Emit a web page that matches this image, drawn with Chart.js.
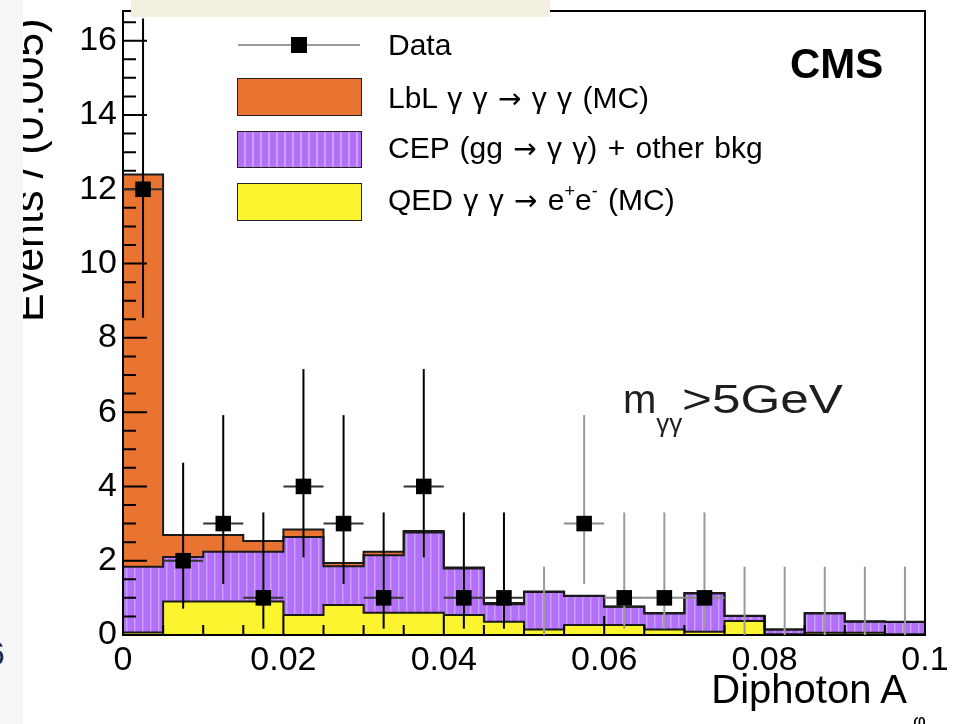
<!DOCTYPE html>
<html>
<head>
<meta charset="utf-8">
<title>Diphoton acoplanarity</title>
<script src="https://cdn.jsdelivr.net/npm/chart.js@4.4.1/dist/chart.umd.min.js"></script>
<style>
  html, body { margin: 0; padding: 0; background: #fff; }
  #wrap { position: relative; width: 967px; height: 724px; overflow: hidden;
          font-family: "Liberation Sans", Arial, Helvetica, sans-serif; }
  #plot { position: absolute; left: 0; top: 0; }
  .t { position: absolute; white-space: nowrap; line-height: 1; color: #000; }
  .lg { font-size: 30px; word-spacing: 2px; }
  .sw { position: absolute; box-sizing: border-box; border: 1.5px solid #222; }
  .ar { font-family: "DejaVu Sans", sans-serif; font-size: 28px; }
  sup { font-size: 60%; vertical-align: 0; position: relative; top: -0.7em; }
</style>
</head>
<body>
<div id="wrap">
  <canvas id="plot" width="967" height="724"></canvas>

  <!-- legend -->
  <div style="position:absolute;left:238px;top:44px;width:122px;height:2px;background:#9a9a9a"></div>
  <div style="position:absolute;left:291px;top:37px;width:16px;height:16px;background:#000"></div>
  <div class="t lg" style="left:388px;top:30px">Data</div>

  <div class="sw" style="left:237px;top:78px;width:125px;height:38px;background:#e97331"></div>
  <div class="t lg" style="left:388px;top:83px">LbL γ γ <span class="ar">→</span> γ γ (MC)</div>

  <div class="sw" style="left:237px;top:131px;width:125px;height:37px;background:repeating-linear-gradient(90deg,#b36ff8 0 6px,#caa2fb 6px 8px)"></div>
  <div class="t lg" style="left:388px;top:133px">CEP (gg <span class="ar">→</span> γ γ) + other bkg</div>

  <div class="sw" style="left:237px;top:183px;width:125px;height:38px;background:#fbf42f"></div>
  <div class="t lg" style="left:388px;top:185px">QED γ γ <span class="ar">→</span> e<sup>+</sup>e<sup>-</sup> (MC)</div>

  <div class="t" style="left:790px;top:43px;font-size:42px;font-weight:bold">CMS</div>

  <div class="t" style="left:623px;top:379px;font-size:40px;color:#1e1e1e">m<span style="font-size:26px;position:relative;top:19px">γγ</span><span style="display:inline-block;transform-origin:left center;transform:scaleX(1.28)">&gt;5GeV</span></div>

  <!-- axis titles -->
  <div class="t" style="right:60px;top:669px;font-size:40px">Diphoton A</div>
  <div class="t" style="left:913px;top:711px;font-size:20px">φ</div>
  <div class="t" style="left:7px;top:322px;font-size:43px;transform-origin:left top;transform:rotate(-90deg)">Events / (0.005)</div>

  <!-- page margins around the plot image -->
  <div style="position:absolute;left:0;top:0;width:23px;height:724px;background:#f6f6f6"></div>
  <div class="t" style="left:-14px;top:636px;font-size:34px;color:#1c2c5a">6</div>
  <div style="position:absolute;left:131px;top:0;width:419px;height:17px;background:#f3f0e2"></div>
</div>

<script>
// histogram binning in A_phi
const binEdges = [0, 0.005, 0.01, 0.015, 0.02, 0.025, 0.03, 0.035, 0.04, 0.045, 0.05,
                  0.055, 0.06, 0.065, 0.07, 0.075, 0.08, 0.085, 0.09, 0.095, 0.1];

// MC templates, events per bin (stacked bottom to top: QED, CEP, LbL)
const qedMC  = [0.07, 0.90, 0.90, 0.90, 0.54, 0.81, 0.60, 0.60, 0.54, 0.36,
                0.15, 0.27, 0.27, 0.15, 0.09, 0.38, 0.02, 0.06, 0.06, 0.02];
const cepBkg = [1.77, 1.20, 1.34, 1.34, 2.10, 1.04, 1.55, 2.16, 1.25, 0.47,
                1.01, 0.78, 0.49, 0.43, 1.03, 0.13, 0.13, 0.52, 0.30, 0.33];
const lblMC  = [10.56, 0.59, 0.45, 0.29, 0.20, 0.09, 0.09, 0.04, 0.03, 0.03,
                0.01, 0.01, 0.01, 0.01, 0.01, 0.01, 0.00, 0.01, 0.01, 0.01];

// observed counts and their asymmetric (Poisson) intervals
const dataCounts  = [12, 2, 3, 1, 4, 3, 1, 4, 1, 1, 0, 3, 1, 1, 1, 0, 0, 0, 0, 0];
const dataErrLow  = [8.54, 0.71, 1.37, 0.17, 2.09, 1.37, 0.17, 2.09, 0.17, 0.17,
                     0, 1.37, 0.17, 0.17, 0.17, 0, 0, 0, 0, 0];
const dataErrHigh = [16.6, 4.64, 5.92, 3.30, 7.16, 5.92, 3.30, 7.16, 3.30, 3.30,
                     1.84, 5.92, 3.30, 3.30, 3.30, 1.84, 1.84, 1.84, 1.84, 1.84];

const yTicks = [0, 2, 4, 6, 8, 10, 12, 14, 16];
const xTicks = [0, 0.02, 0.04, 0.06, 0.08, 0.1];

const FONT = '"Liberation Sans", Arial, Helvetica, sans-serif';

// cumulative stack levels
const stackQed = qedMC.slice();
const stackCep = cepBkg.map((v, i) => v + stackQed[i]);
const stackAll = lblMC.map((v, i) => v + stackCep[i]);

// step outline: one point per lower edge, plus the last upper edge
function stepPoints(vals) {
  const pts = vals.map((v, i) => ({ x: binEdges[i], y: v }));
  pts.push({ x: binEdges[vals.length], y: vals[vals.length - 1] });
  return pts;
}

const dataPoints = dataCounts.map((n, i) => ({ x: (binEdges[i] + binEdges[i + 1]) / 2, y: n }));

// vertical hatch used for the CEP template
function violetHatch() {
  const c = document.createElement('canvas');
  c.width = 8; c.height = 4;
  const g = c.getContext('2d');
  g.fillStyle = '#b36ff8'; g.fillRect(0, 0, 8, 4);
  g.fillStyle = '#c8a0fb'; g.fillRect(6, 0, 1.5, 4);
  return g.createPattern(c, 'repeat');
}

// frame with inward ticks, then the data error bars
const rootAxes = {
  id: 'rootAxes',
  beforeDatasetDraw(chart, args) {
    if (args.index !== 0) return;
    const { ctx, chartArea: a, scales: { x, y } } = chart;
    ctx.save();
    ctx.strokeStyle = '#000';
    ctx.lineWidth = 2;
    ctx.strokeRect(a.left, a.top, a.right - a.left, a.bottom - a.top);

    ctx.beginPath();
    for (let k = 0; k * 0.5 <= y.max; k++) {
      const py = y.getPixelForValue(k * 0.5);
      ctx.moveTo(a.left, py);
      ctx.lineTo(a.left + (k % 4 === 0 ? 24 : 13), py);
    }
    binEdges.forEach((e, k) => {
      const px = x.getPixelForValue(e);
      ctx.moveTo(px, a.bottom);
      ctx.lineTo(px, a.bottom - (k % 4 === 0 ? 19 : 10));
    });
    ctx.stroke();

    dataCounts.forEach((n, i) => {
      const lo = binEdges[i], hi = binEdges[i + 1];
      const cx = x.getPixelForValue((lo + hi) / 2);
      const faded = lo >= 0.05;
      ctx.lineWidth = 2;
      ctx.strokeStyle = faded ? '#9a9a9a' : '#000';
      ctx.beginPath();
      ctx.moveTo(cx, y.getPixelForValue(dataErrLow[i]));
      ctx.lineTo(cx, y.getPixelForValue(dataErrHigh[i]));
      ctx.stroke();
      if (n > 0) {
        const cy = y.getPixelForValue(n);
        ctx.strokeStyle = faded ? '#8a8a8a' : '#333';
        ctx.beginPath();
        ctx.moveTo(x.getPixelForValue(lo), cy);
        ctx.lineTo(x.getPixelForValue(hi), cy);
        ctx.stroke();
      }
    });
    ctx.restore();
  }
};

const outline = { type: 'line', stepped: true, pointRadius: 0, borderColor: '#1a1a1a', borderWidth: 2 };

new Chart(document.getElementById('plot'), {
  type: 'scatter',
  data: {
    datasets: [
      { label: 'Data', data: dataPoints, order: 0, pointStyle: 'rect',
        pointRadius: c => (dataCounts[c.dataIndex] > 0 ? 11 : 0),
        pointBackgroundColor: '#000', pointBorderWidth: 0 },
      { ...outline, label: 'QED', data: stepPoints(stackQed), fill: 'origin', backgroundColor: '#fbf42f', order: 3 },
      { ...outline, label: 'CEP', data: stepPoints(stackCep), fill: 1, backgroundColor: violetHatch(), order: 2 },
      { ...outline, label: 'LbL', data: stepPoints(stackAll), fill: 2, backgroundColor: '#e97331', order: 1 }
    ]
  },
  options: {
    responsive: false,
    animation: false,
    devicePixelRatio: 1,
    layout: { padding: { top: 11, right: 42, left: 0, bottom: 0 } },
    plugins: {
      legend: { display: false },
      tooltip: { enabled: false },
      filler: { drawTime: 'beforeDatasetsDraw' }
    },
    scales: {
      x: {
        type: 'linear', min: 0, max: 0.1,
        grid: { display: false, drawTicks: false },
        border: { display: false },
        afterBuildTicks: s => { s.ticks = xTicks.map(v => ({ value: v })); },
        ticks: { font: { family: FONT, size: 34 }, color: '#000', padding: 5, maxRotation: 0,
                 autoSkip: false, callback: v => String(v) },
        afterFit: s => { s.height = 89; s.paddingLeft = 0; s.paddingRight = 0; }
      },
      y: {
        min: 0, max: 16.8,
        grid: { display: false, drawTicks: false },
        border: { display: false },
        afterBuildTicks: s => { s.ticks = yTicks.map(v => ({ value: v })); },
        ticks: { font: { family: FONT, size: 34 }, color: '#000', padding: 6, callback: v => String(v) },
        afterFit: s => { s.width = 123; s.paddingTop = 0; s.paddingBottom = 0; }
      }
    }
  },
  plugins: [rootAxes]
});
</script>
</body>
</html>
